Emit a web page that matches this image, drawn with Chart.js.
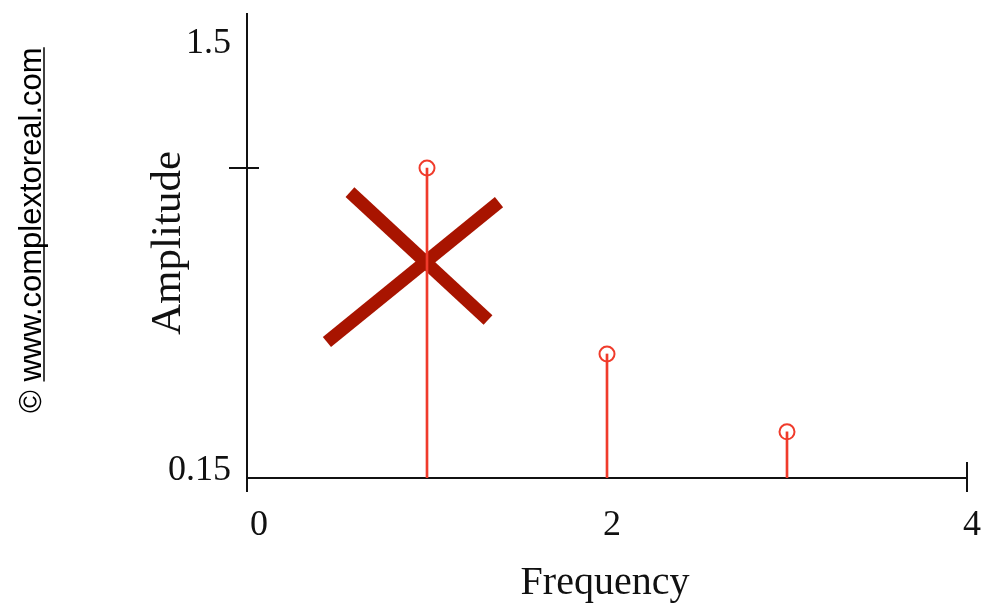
<!DOCTYPE html>
<html>
<head>
<meta charset="utf-8">
<script src="https://cdn.jsdelivr.net/npm/chart.js@4.4.1/dist/chart.umd.min.js"></script>
<style>
  body { margin: 0; background: #fff; }
  canvas { display: block; }
</style>
</head>
<body>
<canvas id="spectrum" width="983" height="603"></canvas>
<script>
// Datos del espectro (frecuencia -> amplitud)
const freqs = [1, 2, 3];
const amps = [1.05, 0.51, 0.284];

// Ticks de los ejes
const xTicks = [0, 2, 4];
const yTicks = [0.15, 1.5];

// La "X" roja sobre el primer armónico (en coordenadas de datos)
const crossA = [{ x: 0.572, y: 0.98 }, { x: 1.339, y: 0.609 }];
const crossB = [{ x: 0.444, y: 0.545 }, { x: 1.4, y: 0.951 }];

const stemColor = '#f03b2b';
const crossColor = '#a81400';
const axisColor = '#111';

const points = freqs.map((f, i) => ({ x: f, y: amps[i] }));

// Ejes dibujados a mano al estilo Mathcad
const axesPlugin = {
    id: 'mathcadAxes',
    beforeDatasetsDraw(chart) {
        const { ctx, chartArea, scales } = chart;
        const x = scales.x, y = scales.y;
        const x0 = Math.round(x.getPixelForValue(0));
        const x4 = Math.round(x.getPixelForValue(4));
        const yBase = Math.round(y.getPixelForValue(yTicks[0]));
        ctx.save();
        ctx.strokeStyle = axisColor;
        ctx.lineWidth = 2;
        ctx.beginPath();
        // eje y
        ctx.moveTo(x0, chartArea.top);
        ctx.lineTo(x0, yBase + 14);
        // eje x
        ctx.moveTo(x0, yBase);
        ctx.lineTo(x4, yBase);
        // tick final del eje x
        ctx.moveTo(x4, yBase - 16);
        ctx.lineTo(x4, yBase + 14);
        // marcador en la amplitud del primer armónico
        const ym = Math.round(y.getPixelForValue(amps[0]));
        ctx.moveTo(x0 - 18, ym);
        ctx.lineTo(x0 + 12, ym);
        ctx.stroke();
        ctx.restore();
    },
    afterDraw(chart) {
        const { ctx, scales } = chart;
        const x = scales.x, y = scales.y;
        ctx.save();
        ctx.fillStyle = '#111';

        // etiquetas del eje y
        ctx.font = '36px "Liberation Serif"';
        ctx.textAlign = 'right';
        ctx.textBaseline = 'alphabetic';
        ctx.fillText('1.5', 231, y.getPixelForValue(yTicks[1]) + 40);
        ctx.fillText('0.15', 231, y.getPixelForValue(yTicks[0]) + 2);

        // etiquetas del eje x
        ctx.textAlign = 'center';
        const xOff = [12, 5, 5];
        xTicks.forEach((t, i) => {
            ctx.fillText(String(t), x.getPixelForValue(t) + xOff[i], 535);
        });

        // títulos
        ctx.font = '40px "Liberation Serif"';
        ctx.fillText('Frequency', 605, 594);
        ctx.save();
        ctx.translate(180, 243);
        ctx.rotate(-Math.PI / 2);
        ctx.font = '43px "Liberation Serif"';
        ctx.fillText('Amplitude', 0, 0);
        ctx.restore();

        // marca de agua
        ctx.save();
        ctx.translate(41, 413);
        ctx.rotate(-Math.PI / 2);
        ctx.font = '31px "Liberation Sans"';
        ctx.textAlign = 'left';
        ctx.fillStyle = '#000';
        const pre = '\u00a9 ';
        const site = 'www.complextoreal.com';
        ctx.fillText(pre + site, 0, 0);
        const w0 = ctx.measureText(pre).width;
        const w1 = ctx.measureText(pre + site).width;
        ctx.strokeStyle = '#000';
        ctx.lineWidth = 1.5;
        ctx.beginPath();
        ctx.moveTo(w0, 3);
        ctx.lineTo(w1, 3);
        ctx.stroke();
        ctx.restore();

        ctx.restore();
    }
};

new Chart(document.getElementById('spectrum'), {
    type: 'scatter',
    data: {
        datasets: [
            {
                type: 'scatter',
                data: points,
                pointStyle: 'circle',
                pointRadius: 7.5,
                pointBorderWidth: 2,
                pointBorderColor: stemColor,
                pointBackgroundColor: 'rgba(0,0,0,0)',
                order: 1
            },
            {
                type: 'bar',
                data: points,
                backgroundColor: stemColor,
                barThickness: 2,
                order: 2
            },
            {
                type: 'line',
                data: crossA,
                borderColor: crossColor,
                borderWidth: 13,
                pointRadius: 0,
                order: 3
            },
            {
                type: 'line',
                data: crossB,
                borderColor: crossColor,
                borderWidth: 13,
                pointRadius: 0,
                order: 4
            }
        ]
    },
    options: {
        responsive: false,
        animation: false,
        layout: { autoPadding: false, padding: { left: 247, right: 16, top: 13, bottom: 125 } },
        plugins: { legend: { display: false }, tooltip: { enabled: false } },
        scales: {
            x: { type: 'linear', min: 0, max: 4, offset: false, display: false },
            y: { type: 'linear', min: 0.15, max: 1.5, display: false }
        }
    },
    plugins: [axesPlugin]
});
</script>
</body>
</html>
